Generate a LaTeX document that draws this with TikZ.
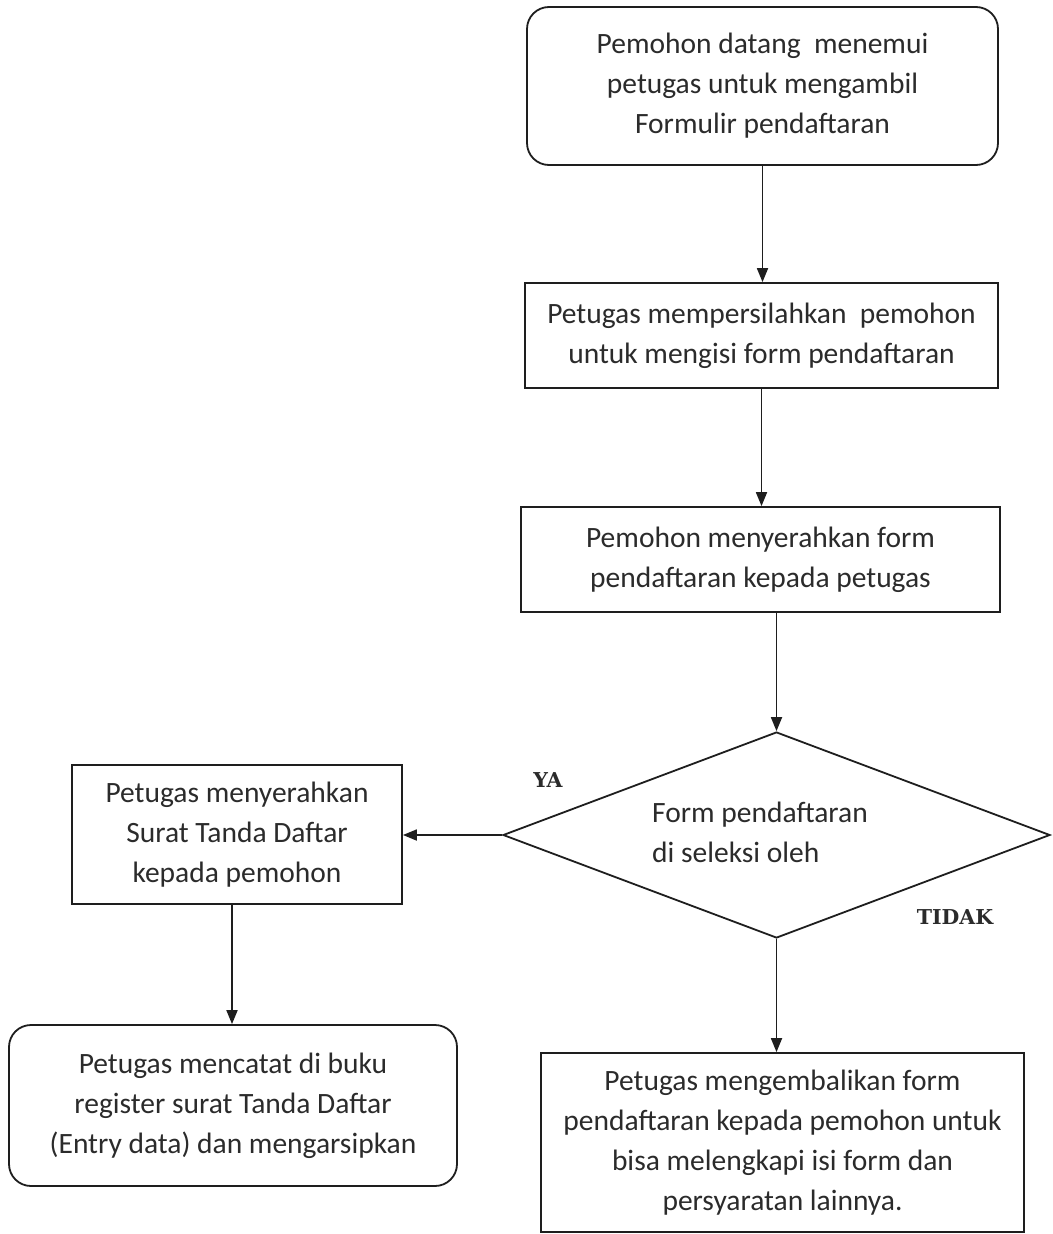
\documentclass[tikz,border=0pt]{standalone}
\usepackage{fontspec}
\setmainfont{Carlito}
\newfontfamily\labfont{DejaVu Serif}
\usetikzlibrary{shapes.geometric,arrows.meta}
\definecolor{txt}{HTML}{2B2B2B}
\definecolor{ln}{HTML}{1E1E1E}
\begin{document}
\begin{tikzpicture}[x=1pt,y=-1pt,
  every node/.style={inner sep=0pt, text=txt},
  procbox/.style={draw=ln, line width=1.8pt, align=center,
     font=\fontsize{29.5}{40}\selectfont},
  roundbox/.style={procbox, rounded corners=22pt},
  decision/.style={draw=ln, line width=1.8pt, diamond, minimum width=547pt, minimum height=206pt},
  lab/.style={font=\labfont\bfseries\fontsize{20.5}{22}\selectfont, text=txt},
  flow/.style={draw=ln, line width=1.8pt, -{Triangle[length=14pt,width=11pt]}}
]
\useasboundingbox (0,0) rectangle (1052,1234);
\fill[white] (0,0) rectangle (1052,1234);

\node[roundbox, minimum width=471pt, minimum height=158pt] (b1) at (762.5,86)
  {Pemohon datang\ \ menemui\\petugas untuk mengambil\\Formulir pendaftaran};
\node[procbox, minimum width=473pt, minimum height=105pt] (b2) at (761.5,335.5)
  {Petugas mempersilahkan\ \ pemohon\\untuk mengisi form pendaftaran};
\node[procbox, minimum width=479pt, minimum height=105pt] (b3) at (760.5,559.5)
  {Pemohon menyerahkan form\\pendaftaran kepada petugas};
\node[decision] (d) at (776.5,835) {};
\node[align=left, font=\fontsize{29.5}{40}\selectfont] (dt) at (760,832)
  {Form pendaftaran\\di seleksi oleh};
\node[lab] (ya) at (548,780) {YA};
\node[lab] (tidak) at (955,917) {TIDAK};
\node[procbox, minimum width=330pt, minimum height=139pt] (b4) at (237,834.5)
  {Petugas menyerahkan\\Surat Tanda Daftar\\kepada pemohon};
\node[roundbox, minimum width=448pt, minimum height=161pt] (b5) at (233,1105.5)
  {Petugas mencatat di buku\\register surat Tanda Daftar\\(Entry data) dan mengarsipkan};
\node[procbox, minimum width=483pt, minimum height=179pt] (b6) at (782.5,1142.5)
  {Petugas mengembalikan form\\pendaftaran kepada pemohon untuk\\bisa melengkapi isi form dan\\persyaratan lainnya.};

\draw[flow] (b1.south) -- (b1.south |- b2.north);
\draw[flow] (b2.south) -- (b2.south |- b3.north);
\draw[flow] (d.north |- b3.south) -- (d.north);
\draw[flow] (d.west) -- (b4.east |- d.west);
\draw[flow] (232,904) coordinate (s4) -- (s4 |- b5.north);
\draw[flow] (d.south) -- (d.south |- b6.north);
\end{tikzpicture}
\end{document}
